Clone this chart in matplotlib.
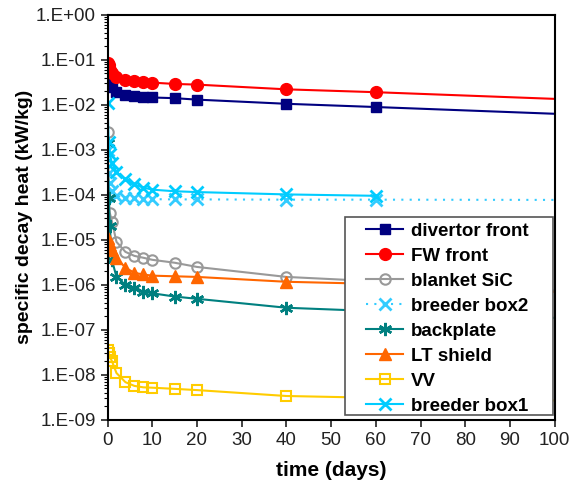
import numpy as np
import matplotlib.pyplot as plt
from matplotlib.patches import Rectangle
from matplotlib.ticker import LogLocator, FixedLocator, NullFormatter

plt.rcParams['font.family'] = ['Liberation Sans', 'DejaVu Sans']

# time points (days); the last point (100) carries no marker
t = [0, 0.25, 0.5, 1, 2, 4, 6, 8, 10, 15, 20, 40, 60, 100]
t_box1 = [0, 0.25, 0.5, 1, 2, 4, 6, 8, 10, 15, 20, 40, 60]

divertor_front = [0.042, 0.035, 0.030, 0.025, 0.019, 0.0165, 0.0155, 0.015, 0.0145, 0.014, 0.013, 0.0105, 0.0089, 0.0063]
fw_front = [0.085, 0.075, 0.060, 0.050, 0.042, 0.036, 0.033, 0.032, 0.031, 0.029, 0.028, 0.022, 0.019, 0.0135]
blanket_sic = [2.5e-3, 1.0e-4, 4.0e-5, 2.5e-5, 9.0e-6, 5.4e-6, 4.4e-6, 4.0e-6, 3.6e-6, 3.1e-6, 2.5e-6, 1.5e-6, 1.2e-6, 7.5e-7]
breeder_box2 = [1.0e-3, 3.0e-4, 1.8e-4, 1.2e-4, 9.5e-5, 8.6e-5, 8.3e-5, 8.1e-5, 8.0e-5, 7.9e-5, 7.9e-5, 7.8e-5, 7.8e-5, 7.7e-5]
backplate = [1.4e-3, 8.5e-5, 2.0e-5, 3.5e-6, 1.5e-6, 1.0e-6, 8.5e-7, 7.0e-7, 6.5e-7, 5.5e-7, 4.9e-7, 3.1e-7, 2.6e-7, 1.85e-7]
lt_shield = [1.1e-5, 9.0e-6, 7.5e-6, 6.0e-6, 4.0e-6, 2.4e-6, 1.85e-6, 1.7e-6, 1.6e-6, 1.55e-6, 1.5e-6, 1.17e-6, 1.05e-6, 7.0e-7]
vv = [3.5e-8, 3.0e-8, 2.5e-8, 2.0e-8, 1.1e-8, 6.9e-9, 5.7e-9, 5.3e-9, 5.2e-9, 4.9e-9, 4.6e-9, 3.4e-9, 3.1e-9, 2.7e-9]
breeder_box1 = [1.1e-2, 1.5e-3, 8.0e-4, 5.0e-4, 3.2e-4, 2.2e-4, 1.7e-4, 1.45e-4, 1.3e-4, 1.2e-4, 1.15e-4, 1.02e-4, 9.5e-5]

y_ticks = [1e0, 1e-1, 1e-2, 1e-3, 1e-4, 1e-5, 1e-6, 1e-7, 1e-8, 1e-9]
y_tick_labels = ['1.E+00', '1.E-01', '1.E-02', '1.E-03', '1.E-04', '1.E-05', '1.E-06', '1.E-07', '1.E-08', '1.E-09']
x_ticks = [0, 10, 20, 30, 40, 50, 60, 70, 80, 90, 100]

fig = plt.figure(figsize=(5.69, 4.90), dpi=100)
ax = fig.add_axes([0.189, 0.143, 0.786, 0.827])

mk = slice(0, 13)
ms = 7.5
ax.plot(t, divertor_front, color='#000080', marker='s', ms=ms, lw=1.5, markevery=mk, label='divertor front')
ax.plot(t, fw_front, color='#ff0000', marker='o', ms=ms + 1, lw=1.5, markevery=mk, label='FW front')
ax.plot(t, blanket_sic, color='#999999', marker='o', ms=ms, mfc='none', mew=1.5, lw=1.5, markevery=mk, label='blanket SiC')
ax.plot(t, breeder_box2, color='#33ccff', marker='x', ms=ms + 1, mew=2, lw=1.5, ls=(0, (1, 3)), markevery=mk, label='breeder box2')
ax.plot(t, backplate, color='#008080', marker=(6, 2, 0), ms=ms + 2, mew=1.8, lw=1.5, markevery=mk, label='backplate')
ax.plot(t, lt_shield, color='#ff6600', marker='^', ms=ms + 1, lw=1.5, markevery=mk, label='LT shield')
ax.plot(t, vv, color='#ffcc00', marker='s', ms=ms, mfc='none', mew=1.5, lw=1.5, markevery=mk, label='VV')
ax.plot(t_box1, breeder_box1, color='#00ccff', marker='x', ms=ms + 1, mew=2, lw=1.5, label='breeder box1')

ax.set_yscale('log')
ax.set_ylim(1e-9, 1e0)
ax.set_xlim(0, 100)
ax.yaxis.set_major_locator(FixedLocator(y_ticks))
ax.set_yticklabels(y_tick_labels)
ax.yaxis.set_minor_locator(LogLocator(base=10, subs=np.arange(2, 10), numticks=20))
ax.yaxis.set_minor_formatter(NullFormatter())
ax.set_xticks(x_ticks)

ax.tick_params(axis='both', which='major', direction='out', length=5, width=1.2, labelsize=13.5, colors='#222222')
ax.tick_params(axis='y', which='minor', direction='out', length=3, width=0.8)
for sp in ax.spines.values():
    sp.set_linewidth(1.5)

ax.set_xlabel('time (days)', fontsize=15, fontweight='bold', labelpad=9)
ax.set_ylabel('specific decay heat (kW/kg)', fontsize=14, fontweight='bold', labelpad=2)

# legend box drawn separately so the side padding can be wider than the top/bottom
ax.add_patch(Rectangle((0.531, 0.012), 0.465, 0.489, transform=ax.transAxes,
                       facecolor='white', edgecolor='#555555', lw=1.2, zorder=4))
leg = ax.legend(loc='upper left', bbox_to_anchor=(0.558, 0.51), frameon=False,
                prop={'weight': 'bold', 'size': 13.5}, handlelength=1.95,
                labelspacing=0.42, borderpad=0, handletextpad=0.4)
leg.set_zorder(5)

fig.savefig('out.png', dpi=100)
